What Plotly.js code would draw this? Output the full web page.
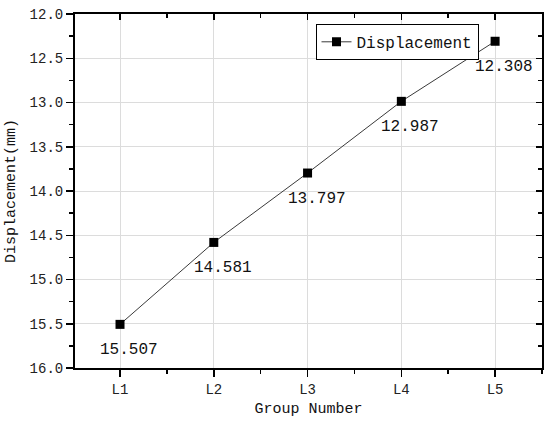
<!DOCTYPE html>
<html>
<head>
<meta charset="utf-8">
<script src="https://cdn.plot.ly/plotly-3.0.1.min.js"></script>
<style>
  html, body { margin: 0; padding: 0; background: #fff; }
  #chart { width: 550px; height: 427px; }
</style>
</head>
<body>
<div id="chart"></div>
<script>
// groups along x and measured displacement (mm)
var groups = ['L1', 'L2', 'L3', 'L4', 'L5'];
var displacement = [15.507, 14.581, 13.797, 12.987, 12.308];

var idx = groups.map(function (g, i) { return i; });
var font = 'Liberation Mono, DejaVu Sans Mono, monospace';

var lineTrace = {
    x: idx,
    y: displacement,
    name: 'Displacement',
    type: 'scatter',
    mode: 'lines+markers',
    line: { color: '#3a3a3a', width: 1 },
    marker: { symbol: 'square', size: 9, color: '#000' },
    hoverinfo: 'skip'
};

// invisible copy so the top/right axes get drawn with inward ticks
var ghost = {
    x: idx,
    y: displacement,
    xaxis: 'x2',
    yaxis: 'y2',
    type: 'scatter',
    mode: 'markers',
    marker: { opacity: 0 },
    showlegend: false,
    hoverinfo: 'skip'
};

// value labels under each point
var notes = displacement.map(function (v, i) {
    return {
        x: i, y: v, xref: 'x', yref: 'y',
        text: v.toFixed(3),
        showarrow: false,
        xshift: 9, yshift: -26,
        font: { family: font, size: 16, color: '#111' }
    };
});

var layout = {
    width: 550,
    height: 427,
    margin: { l: 75, r: 8, t: 14, b: 59 },
    paper_bgcolor: '#fff',
    plot_bgcolor: '#fff',
    font: { family: font, color: '#111' },
    showlegend: true,
    legend: {
        x: 0.515, y: 0.972, xanchor: 'left', yanchor: 'top',
        bordercolor: '#000', borderwidth: 1, bgcolor: '#fff',
        font: { family: font, size: 16, color: '#111' },
        itemwidth: 30
    },
    xaxis: {
        range: [-0.48, 4.5],
        tickvals: idx,
        ticktext: groups,
        showline: true, linecolor: '#000', linewidth: 2, mirror: true,
        ticks: 'outside', ticklen: 7, tickwidth: 1.5, tickcolor: '#000',
        minor: { dtick: 0.5, tick0: 0.5, ticks: 'outside', ticklen: 4, tickcolor: '#000', showgrid: false },
        showgrid: true, gridcolor: '#dcdcdc', gridwidth: 1,
        zeroline: false,
        tickfont: { family: font, size: 14, color: '#222' },
        title: { text: 'Group Number', font: { family: font, size: 15, color: '#111' }, standoff: 6 }
    },
    yaxis: {
        range: [16, 12],
        dtick: 0.5,
        tick0: 12,
        tickformat: '.1f',
        showline: true, linecolor: '#000', linewidth: 2, mirror: true,
        ticks: 'outside', ticklen: 7, tickwidth: 1.5, tickcolor: '#000',
        minor: { dtick: 0.25, tick0: 12, ticks: 'outside', ticklen: 4, tickcolor: '#000', showgrid: false },
        showgrid: true, gridcolor: '#dcdcdc', gridwidth: 1,
        zeroline: false,
        tickfont: { family: font, size: 14, color: '#222' },
        title: { text: 'Displacement(mm)', font: { family: font, size: 15, color: '#111' }, standoff: 10 }
    },
    xaxis2: {
        overlaying: 'x', side: 'top', anchor: 'y2',
        range: [-0.48, 4.5],
        tickvals: idx,
        showticklabels: false,
        ticks: 'inside', ticklen: 6, tickwidth: 1.5, tickcolor: '#000',
        minor: { dtick: 0.5, tick0: 0.5, ticks: 'inside', ticklen: 4, tickcolor: '#000' },
        showgrid: false, zeroline: false, showline: false
    },
    yaxis2: {
        overlaying: 'y', side: 'right', anchor: 'x2',
        range: [16, 12],
        dtick: 0.5, tick0: 12,
        showticklabels: false,
        ticks: 'inside', ticklen: 6, tickwidth: 1.5, tickcolor: '#000',
        minor: { dtick: 0.25, tick0: 12, ticks: 'inside', ticklen: 4, tickcolor: '#000' },
        showgrid: false, zeroline: false, showline: false
    },
    annotations: notes
};

Plotly.newPlot('chart', [lineTrace, ghost], layout, { displayModeBar: false, staticPlot: true });
</script>
</body>
</html>
